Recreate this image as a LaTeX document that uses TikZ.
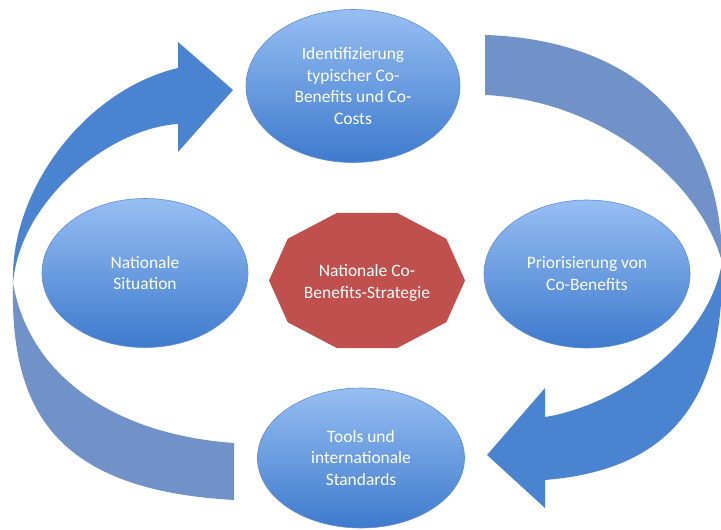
\documentclass[tikz,border=0pt]{standalone}
\usepackage{fontspec}
\setmainfont{Carlito}
\usetikzlibrary{shapes.geometric}
\definecolor{ellTop}{RGB}{150,190,242}
\definecolor{ellBot}{RGB}{62,122,205}
\definecolor{ellEdge}{RGB}{95,142,210}
\definecolor{arrFront}{RGB}{74,132,208}
\definecolor{arrBack}{RGB}{112,146,200}
\definecolor{stratRed}{RGB}{192,80,77}
\begin{document}
\begin{tikzpicture}[x=1bp,y=-1bp,
  stage/.style={ellipse, top color=ellTop, bottom color=ellBot, draw=ellEdge,
    line width=0.6bp, inner sep=0pt, text=white, align=center,
    font=\fontsize{17.5}{22}\selectfont},
  stratlabel/.style={text=white, align=center, inner sep=0pt,
    font=\fontsize{17.5}{22}\selectfont},
  frontpart/.style={fill=arrFront},
  backpart/.style={fill=arrBack}]
\useasboundingbox (0,0) rectangle (721,530);

% ---------- left curved arrow (bottom -> top ellipse) ----------
\coordinate (lpinch) at (13,283);
\coordinate (ltailA) at (234,500);
\coordinate (ltailB) at (234,443);
\coordinate (lneckA) at (178,68);
\coordinate (lheadA) at (178,42);
\coordinate (ltip)   at (233,90);
\coordinate (lheadB) at (178,152);
\coordinate (lneckB) at (178,124);
\path[backpart] (lpinch) .. controls (10,410) and (55,490) .. (ltailA)
  -- (ltailB) .. controls (120,435) and (30,380) .. (lpinch) -- cycle;
\path[frontpart] (lpinch) .. controls (10,190) and (85,90) .. (lneckA)
  -- (lheadA) -- (ltip) -- (lheadB) -- (lneckB)
  .. controls (110,128) and (20,200) .. (lpinch) -- cycle;

% ---------- right curved arrow (top -> bottom ellipse) ----------
\coordinate (rpinch) at (722,262);
\coordinate (rtailA) at (485,35);
\coordinate (rtailB) at (485,95);
\coordinate (rneckA) at (545,480);
\coordinate (rheadA) at (545,508);
\coordinate (rtip)   at (487,455);
\coordinate (rheadB) at (545,388);
\coordinate (rneckB) at (545,417);
\path[backpart] (rtailA) .. controls (640,40) and (722,130) .. (rpinch)
  .. controls (700,180) and (600,100) .. (rtailB) -- cycle;
\path[frontpart] (rpinch) .. controls (725,400) and (670,470) .. (rneckA)
  -- (rheadA) -- (rtip) -- (rheadB) -- (rneckB)
  .. controls (620,405) and (710,340) .. (rpinch) -- cycle;

% ---------- ellipses ----------
\node[stage, minimum width=214bp, minimum height=153bp] (ident) at (353,86)
  {Identifizierung\\typischer Co-\\Benefits und Co-\\Costs};
\node[stage, minimum width=206bp, minimum height=149bp] (situ) at (145,273)
  {Nationale\\Situation};
\node[stage, minimum width=206bp, minimum height=148bp] (prior) at (587,274)
  {Priorisierung von\\Co-Benefits};
\node[stage, minimum width=207bp, minimum height=140bp] (tools) at (361,458)
  {Tools und\\internationale\\Standards};

% ---------- central decagon ----------
\fill[stratRed] (465,280.5) -- (446.3,238.8) -- (397.3,213) -- (336.7,213) -- (287.7,238.8)
  -- (269,280.5) -- (287.7,322.2) -- (336.7,348) -- (397.3,348) -- (446.3,322.2) -- cycle;
\node[stratlabel] (strat) at (367,283) {Nationale Co-\\Benefits-Strategie};
\end{tikzpicture}
\end{document}
